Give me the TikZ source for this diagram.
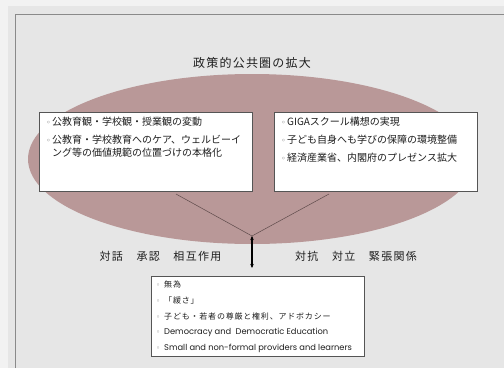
\documentclass[tikz,border=0pt]{standalone}
\usepackage{fontspec}
\setmainfont{Noto Sans CJK JP}
\newfontfamily\dejavu{DejaVu Sans}
\newfontfamily\pop{Poppins}
\usetikzlibrary{arrows.meta,shapes.geometric}
\definecolor{outerbg}{HTML}{F2F2F2}
\definecolor{panelbg}{HTML}{E6E6E6}
\definecolor{panelline}{HTML}{8A8A8A}
\definecolor{sphere}{HTML}{B99898}
\definecolor{boxline}{HTML}{555555}
\definecolor{txt}{HTML}{1E1E1E}
\definecolor{vline}{HTML}{5E4B4B}
\newcommand{\blt}{\makebox[6pt][l]{{\color{gray!80!black}\dejavu\fontsize{8}{8}\selectfont ◦}}}
\newcommand{\bltb}{\makebox[8pt][l]{{\color{gray}\dejavu\fontsize{7}{7}\selectfont ◦}}}
\tikzset{
  textbox/.style={draw=boxline, line width=0.8pt, fill=white, anchor=north west, inner sep=0pt},
  boxtext/.style={anchor=north west, inner sep=0pt, align=left, text=txt},
  midlabel/.style={text=txt, inner sep=0pt, font=\fontsize{11}{13}\selectfont\addfontfeature{LetterSpace=12}},
}
\begin{document}
\begin{tikzpicture}[x=1pt,y=-1pt]
\useasboundingbox (0,0) rectangle (504,368);
\fill[outerbg] (0,0) rectangle (504,368);
\fill[panelbg] (8,6) rectangle (504,368);
\draw[panelline, line width=0.8pt] (15,368) -- (15,14) -- (504,14);

\node[ellipse, fill=sphere, inner sep=0pt, minimum width=448pt, minimum height=170pt] (sphere) at (252,159) {};

\node[text=txt, inner sep=0pt, font=\fontsize{12}{14}\selectfont\addfontfeature{LetterSpace=10}] (title) at (252,63) {政策的公共圏の拡大};

\node[textbox, minimum width=213pt, minimum height=79pt] (lbox) at (39,112) {};
\node[boxtext, font=\fontsize{10}{13}\selectfont] (ltext) at ([shift={(7pt,-4.5pt)}]lbox.north west)
 {\blt 公教育観・学校観・授業観の変動\\[5pt]
  \blt 公教育・学校教育へのケア、ウェルビーイ\\
  \hspace*{6pt}ング等の価値規範の位置づけの本格化};

\node[textbox, minimum width=203pt, minimum height=79pt] (rbox) at (274,112) {};
\node[boxtext, font=\fontsize{10}{13}\selectfont] (rtext) at ([shift={(7pt,-4.5pt)}]rbox.north west)
 {\blt GIGAスクール構想の実現\\[5pt]
  \blt 子ども自身へも学びの保障の環境整備\\[5pt]
  \blt 経済産業省、内閣府のプレゼンス拡大};

\coordinate (apex) at (252,236);
\coordinate (lfoot) at (176,194);
\coordinate (rfoot) at (329,194);
\draw[vline, line width=0.5pt] (lfoot) -- (apex) -- (rfoot);

\node[textbox, minimum width=213pt, minimum height=80pt] (bbox) at (151,276) {};
\node[boxtext, font=\fontsize{8}{15.8}\selectfont\addfontfeature{LetterSpace=10}] (btext) at ([shift={(5pt,-4.5pt)}]bbox.north west)
 {\bltb 無為\\
  \bltb 「緩さ」\\
  \bltb 子ども・若者の尊厳と権利、アドボカシー\\
  \bltb {\pop\fontsize{8.3}{15.8}\selectfont Democracy and\ \ Democratic Education}\\
  \bltb {\pop\fontsize{8.3}{15.8}\selectfont Small and non-formal providers and learners}};

\coordinate (arrowend) at ([yshift=8pt]apex |- bbox.north);
\draw[{Stealth[length=4pt,width=3.5pt]}-{Stealth[length=4pt,width=3.5pt]}, line width=1.1pt, black] (apex) -- (arrowend);

\node[midlabel] (dialog) at (160.5,256) {対話　承認　相互作用};
\node[midlabel] (conflict) at (356,256) {対抗　対立　緊張関係};
\end{tikzpicture}
\end{document}
